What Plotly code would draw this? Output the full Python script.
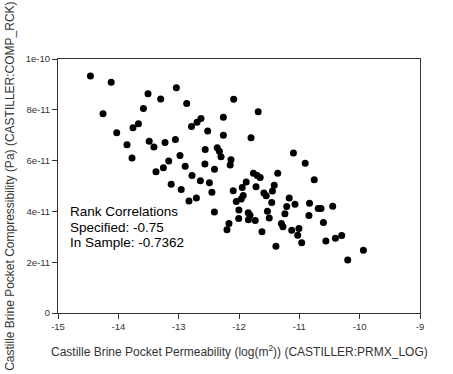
import plotly.graph_objects as go

# Sampled values: permeability (log m^2) and compressibility (units of 1e-11 Pa^-1)
permeability = [
    -14.463, -14.118, -13.038, -13.508, -13.298, -12.867, -14.254, -13.584, -13.667, -13.757,
    -14.027, -13.856, -13.488, -13.410, -13.226, -13.054, -13.773, -12.978, -13.165, -13.253,
    -13.376, -12.892, -12.088, -11.682, -12.630, -12.696, -12.787, -12.259, -12.519, -12.259,
    -11.801, -12.560, -12.361, -12.325, -12.298, -12.133, -12.146, -12.565, -12.406, -11.098,
    -10.903, -12.779, -12.640, -12.491, -13.124, -12.958, -12.449, -12.706, -12.829, -12.096,
    -11.947, -11.881, -11.761, -11.698, -11.649, -11.718, -11.587, -11.549, -12.046, -11.963,
    -11.930, -11.358, -11.416, -11.446, -10.753, -11.458, -11.168, -11.209, -11.072, -10.831,
    -10.687, -10.641, -10.447, -12.002, -11.847, -11.818, -11.529, -11.499, -11.239, -12.005,
    -11.844, -11.731, -12.166, -12.199, -11.297, -11.272, -10.841, -10.601, -11.619, -11.126,
    -11.007, -11.027, -10.961, -11.388, -10.560, -10.402, -10.298, -9.938, -10.198, -12.408,
]
compressibility_e11 = [
    9.33, 9.08, 8.87, 8.63, 8.43, 8.25, 7.84, 8.05, 7.45, 7.29,
    7.10, 6.62, 6.76, 6.54, 6.71, 6.83, 6.10, 6.20, 5.98, 5.72,
    5.56, 5.78, 8.42, 7.92, 7.66, 7.51, 7.34, 7.71, 7.17, 7.00,
    6.90, 6.44, 6.51, 6.37, 6.15, 6.03, 5.83, 5.87, 5.66, 6.30,
    5.90, 5.41, 5.21, 5.13, 5.07, 4.86, 4.75, 4.53, 4.41, 4.81,
    4.94, 5.16, 5.50, 5.41, 5.33, 4.97, 4.72, 4.62, 4.39, 4.49,
    4.63, 5.50, 5.03, 4.80, 5.25, 4.35, 4.53, 4.19, 4.28, 4.32,
    4.11, 4.11, 4.20, 4.06, 3.95, 3.85, 4.01, 3.74, 3.91, 3.72,
    3.67, 3.64, 3.52, 3.28, 3.52, 3.40, 3.84, 3.56, 3.20, 3.26,
    3.33, 3.06, 2.77, 2.63, 2.83, 2.94, 3.05, 2.47, 2.09, 3.98,
]
compressibility = [v * 1e-11 for v in compressibility_e11]

x_tick_vals = [-15, -14, -13, -12, -11, -10, -9]
x_tick_text = ["-15", "-14", "-13", "-12", "-11", "-10", "-9"]
y_tick_vals = [0, 2e-11, 4e-11, 6e-11, 8e-11, 1e-10]
y_tick_text = ["0", "2e-11", "4e-11", "6e-11", "8e-11", "1e-10"]

x_title = "Castille Brine Pocket Permeability (log(m<sup>2</sup>)) (CASTILLER:PRMX_LOG)"
y_title = "Castille Brine Pocket Compressibility (Pa) (CASTILLER:COMP_RCK)"
annotation_lines = ["Rank Correlations", "Specified: -0.75", "In Sample: -0.7362"]

FONT = "Arial, Liberation Sans, sans-serif"

fig = go.Figure()
fig.add_trace(go.Scatter(
    x=permeability, y=compressibility, mode="markers",
    marker=dict(color="black", size=7, line=dict(width=0)),
    showlegend=False, hoverinfo="skip",
))

axis_common = dict(
    showgrid=False, zeroline=False, showline=True, linecolor="#333", linewidth=1,
    mirror=True, ticks="outside", ticklen=5, tickcolor="#333", automargin=False,
    tickfont=dict(size=9.5, family=FONT, color="#333"),
)

annotations = [
    dict(xref="paper", yref="paper", x=0.5, y=-0.15, xanchor="center", yanchor="middle",
         showarrow=False, text=x_title, font=dict(size=12, family=FONT, color="#333")),
    dict(xref="paper", yref="paper", x=-0.133, y=0.5, xanchor="center", yanchor="middle",
         textangle=-90, showarrow=False, text=y_title,
         font=dict(size=12, family=FONT, color="#333")),
]
line_y = [0.398, 0.335, 0.276]
for txt, yy in zip(annotation_lines, line_y):
    annotations.append(dict(
        xref="paper", yref="paper", x=0.027, y=yy, xanchor="left", yanchor="middle",
        align="left", showarrow=False, text=txt,
        font=dict(size=13.5, family=FONT, color="black"),
    ))

fig.update_layout(
    width=453, height=374,
    margin=dict(l=58, r=33, t=59, b=61),
    paper_bgcolor="white", plot_bgcolor="white",
    font=dict(family=FONT, color="#222"),
    xaxis=dict(range=[-15, -9], tickvals=x_tick_vals, ticktext=x_tick_text, **axis_common),
    yaxis=dict(range=[0, 1e-10], tickvals=y_tick_vals, ticktext=y_tick_text, **axis_common),
    annotations=annotations,
)

fig.write_html(
    "out.html",
    config={"displayModeBar": False, "staticPlot": True},
    post_script="document.body.style.margin='0';document.body.style.overflow='hidden';",
)
